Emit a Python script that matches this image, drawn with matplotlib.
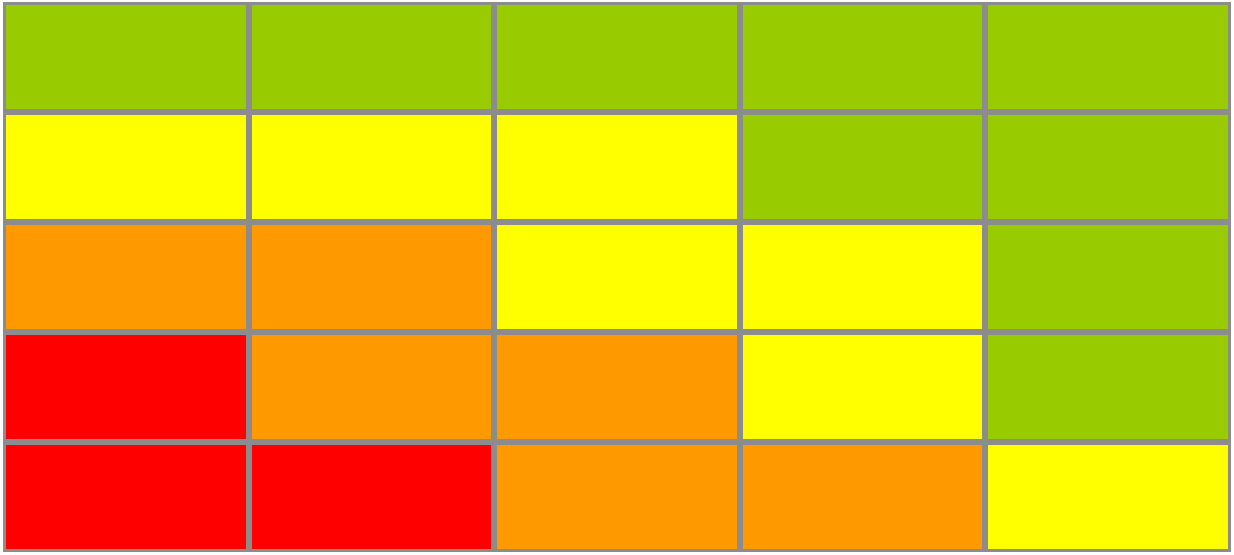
import matplotlib
matplotlib.use("Agg")
import matplotlib.pyplot as plt
from matplotlib.colors import ListedColormap, BoundaryNorm
import numpy as np

# risk levels: 1 = low (green), 2 = medium (yellow), 3 = high (orange), 4 = extreme (red)
row_1 = [1, 1, 1, 1, 1]
row_2 = [2, 2, 2, 1, 1]
row_3 = [3, 3, 2, 2, 1]
row_4 = [4, 3, 3, 2, 1]
row_5 = [4, 4, 3, 3, 2]
level_colors = ["#99CC00", "#FFFF00", "#FF9900", "#FF0000"]

grid = np.array([row_1, row_2, row_3, row_4, row_5])

fig = plt.figure(figsize=(12.34, 5.55), dpi=100)
ax = fig.add_axes([3 / 1234, 3 / 555, 1228 / 1234, 550 / 555])

cmap = ListedColormap(level_colors)
norm = BoundaryNorm([0.5, 1.5, 2.5, 3.5, 4.5], cmap.N)
ax.pcolormesh(grid, cmap=cmap, norm=norm, edgecolors="#8C8C8C", linewidth=3.0)

ax.set_xlim(0, grid.shape[1])
ax.set_ylim(grid.shape[0], 0)
ax.set_axis_off()

fig.savefig("out.png", dpi=100)
